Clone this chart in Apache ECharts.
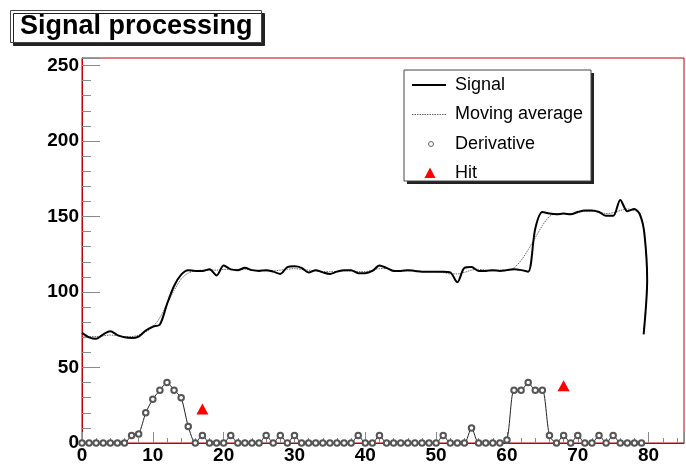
<!DOCTYPE html>
<html>
<head>
<meta charset="utf-8">
<script src="https://cdn.jsdelivr.net/npm/echarts@6/dist/echarts.min.js"></script>
<style>
html,body{margin:0;padding:0;background:#fff;}
#chart{width:686px;height:466px;}
</style>
</head>
<body>
<div id="chart"></div>
<script>
// ---- data ----
var titleText = 'Signal processing';
var legendNames = ['Signal', 'Moving average', 'Derivative', 'Hit'];

var sigX = [0,1,2,3,4,5,6,7,8,9,10,11,12,13,14,15,16,17,18,19,20,21,22,23,24,25,26,27,28,29,30,31,32,33,34,35,36,37,38,39,40,41,42,43,44,45,46,47,48,49,50,51,52,53,54,55,56,57,58,59,60,61,62,63,64,65,66,67,68,69,70,71,72,73,74,75,76,77,78,78.8,79.4,79.8,79.3];
var sigY = [73,70,69,72,74,71.5,70,69.5,70.5,74.5,77,78.5,92,104,111.5,114.5,114,114,115,111,117.5,115,114.5,116,114.5,114,114.5,113.5,112,116.5,117,116,113,114.5,113,112,113.5,114.5,114.5,112.5,112.5,114,117.5,116,114,114,114.5,114,113.5,113.5,113.5,113.5,113,106.5,116,116.5,114,114,114.5,114,114.5,115,114.5,113.5,142,153,152,151.5,152,151.5,153,154,154,153,150.5,150.5,161,153.5,155,151,139,108,72];
var maY = [71,70.5,70.5,71,71.5,71,70.5,70.5,71.5,73.5,77,83,92,101,108.5,112.5,114,114.5,114.5,114.5,115,115,115,115,114.5,114.5,114,114,114.5,115,115.5,115,114.5,114,113.5,113.5,113.5,114,114,113.5,113.5,114.5,115.5,115.5,114.5,114,114,114,113.5,113.5,113.5,113,112,112,113,114.5,115,114.5,114,114.5,114.5,116,121,128,136,144,150,152,152,152,152.5,153.5,153.5,153,152,152.5,154,155,154,152,138,108,74];

var derivX = [0,1,2,3,4,5,6,7,8,9,10,11,12,13,14,15,16,17,18,19,20,21,22,23,24,25,26,27,28,29,30,31,32,33,34,35,36,37,38,39,40,41,42,43,44,45,46,47,48,49,50,51,52,53,54,55,56,57,58,59,60,61,62,63,64,65,66,67,68,69,70,71,72,73,74,75,76,77,78,79];
var derivY = [0,0,0,0,0,0,0,5,6,20,29,35,40,35,30,11,0,5,0,0,0,5,0,0,0,0,5,0,5,0,5,0,0,0,0,0,0,0,0,5,0,0,5,0,0,0,0,0,0,0,0,5,0,0,0,10,0,0,0,0,2,35,35,40,35,35,5,0,5,0,5,0,0,5,0,5,0,0,0,0];

var hitX = [17, 68];
var hitY = [22.5, 38];

var xMin = 0, xMax = 85, xStep = 10;
var yMin = 0, yMax = 255, yStep = 50;

// ---- build ----
function pairs(xs, ys){ var o=[]; for (var i=0;i<xs.length;i++) o.push([xs[i], ys[i]]); return o; }

var frameRed = '#c00000';
var tickGray = '#8a8a8a';
var FONT = '"Liberation Sans", Arial, Helvetica, sans-serif';

var chart = echarts.init(document.getElementById('chart'), null, {renderer:'canvas'});

// legend drawn as graphic (ROOT-like box with shadow)
var lgX = 404, lgY = 70, lgW = 187, lgH = 111;
var rowY = [85, 114.5, 144, 173];
var legendGraphic = [
  {type:'rect', shape:{x:lgX+3, y:lgY+3, width:lgW, height:lgH}, style:{fill:'#222'}, z:100},
  {type:'rect', shape:{x:lgX, y:lgY, width:lgW, height:lgH}, style:{fill:'#fff', stroke:'#444', lineWidth:1}, z:101},
  {type:'line', shape:{x1:412, y1:rowY[0], x2:446, y2:rowY[0]}, style:{stroke:'#000', lineWidth:2}, z:102},
  {type:'line', shape:{x1:412, y1:rowY[1], x2:446, y2:rowY[1]}, style:{stroke:'#666', lineWidth:1, lineDash:[1.5,1]}, z:102},
  {type:'circle', shape:{cx:431, cy:rowY[2], r:2.5}, style:{fill:'#fff', stroke:'#555', lineWidth:0.9}, z:102},
  {type:'polygon', shape:{points:[[430,rowY[3]-5.5],[435.5,rowY[3]+5],[424.5,rowY[3]+5]]}, style:{fill:'#ff0000'}, z:102}
];
for (var i=0;i<legendNames.length;i++){
  legendGraphic.push({type:'text', x:455, y:rowY[i], z:102,
    style:{text:legendNames[i], font:'18px '+FONT, fill:'#000', verticalAlign:'middle', align:'left'}});
}

var option = {
  animation: false,
  backgroundColor: '#fff',
  title: {
    text: titleText,
    left: 10, top: 10,
    padding: [3, 9, 3, 10],
    backgroundColor: '#fff',
    borderColor: '#444',
    borderWidth: 1,
    shadowColor: '#222',
    shadowOffsetX: 3,
    shadowOffsetY: 3,
    shadowBlur: 0,
    textStyle: {fontFamily: FONT, fontWeight: 'bold', fontSize: 27, color: '#000', lineHeight: 27}
  },
  grid: {left: 82, right: 2, top: 58, bottom: 23, show: true, borderColor: frameRed, borderWidth: 1, containLabel: false},
  xAxis: {
    type: 'value', min: xMin, max: xMax, interval: xStep,
    axisLine: {show: true, lineStyle: {color: frameRed, width: 1}},
    axisTick: {show: true, inside: true, length: 11, lineStyle: {color: tickGray}},
    minorTick: {show: true, splitNumber: 5, length: 5, lineStyle: {color: tickGray}},
    splitLine: {show: false},
    axisLabel: {showMaxLabel: false, margin: 3, fontFamily: FONT, fontWeight: 'bold', fontSize: 19, color: '#000'}
  },
  yAxis: {
    type: 'value', min: yMin, max: yMax, interval: yStep,
    axisLine: {show: true, lineStyle: {color: frameRed, width: 1}},
    axisTick: {show: true, inside: true, length: 18, lineStyle: {color: tickGray}},
    minorTick: {show: true, splitNumber: 5, length: 9, lineStyle: {color: tickGray}},
    splitLine: {show: false},
    axisLabel: {showMaxLabel: false, margin: 3, fontFamily: FONT, fontWeight: 'bold', fontSize: 19, color: '#000'}
  },
  series: [
    {
      name: legendNames[1], type: 'line', data: pairs(sigX, maY),
      showSymbol: false, smooth: 0.3, z: 2,
      lineStyle: {color: '#666', width: 1, type: [1.5, 1]}
    },
    {
      name: legendNames[0], type: 'line', data: pairs(sigX, sigY),
      showSymbol: false, smooth: 0.3, z: 3,
      lineStyle: {color: '#000', width: 2}
    },
    {
      name: legendNames[2], type: 'line', data: pairs(derivX, derivY),
      symbol: 'emptyCircle', symbolSize: 5.5, showSymbol: true, showAllSymbol: true, smooth: 0.25, z: 4,
      lineStyle: {color: '#222', width: 1},
      itemStyle: {color: '#555', borderColor: '#555', borderWidth: 0.9}
    },
    {
      name: legendNames[3], type: 'scatter', data: pairs(hitX, hitY),
      symbol: 'triangle', symbolSize: [12, 11], z: 5,
      itemStyle: {color: '#ff0000', opacity: 1}
    }
  ],
  graphic: legendGraphic
};
chart.setOption(option);
</script>
</body>
</html>
